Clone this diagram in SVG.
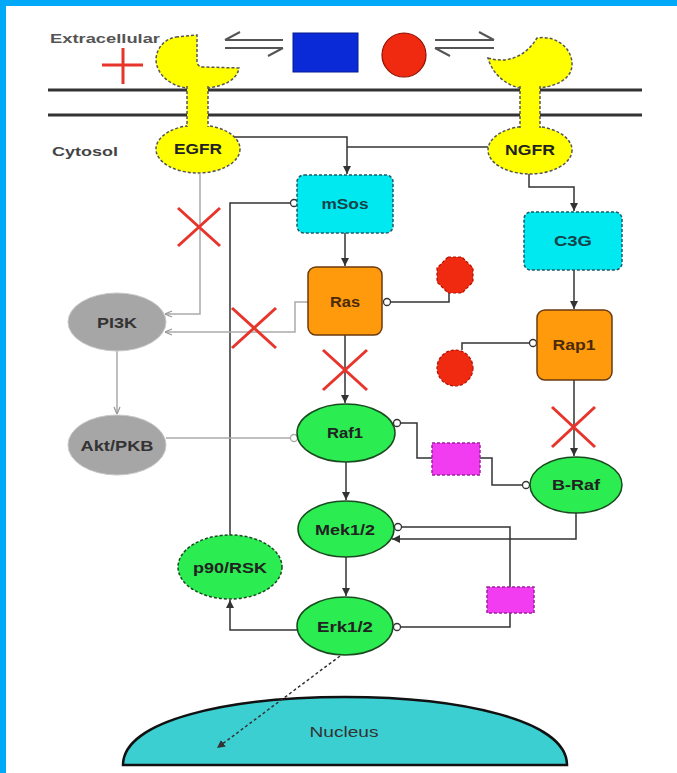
<svg xmlns="http://www.w3.org/2000/svg" width="677" height="773" viewBox="0 0 677 773">
<style>
text{font-family:"Liberation Sans",Arial,sans-serif;font-size:14px;font-weight:bold;fill:#222;text-anchor:middle}
.lbl{font-weight:bold;fill:#555;text-anchor:start}
.c{fill:none;stroke:#333;stroke-width:1.5}
.g{fill:none;stroke:#aaa;stroke-width:1.5}
.x{stroke:#e8352c;stroke-width:3;fill:none}
.yel{fill:#ffff00;stroke:#555;stroke-width:1.5;stroke-dasharray:3 2}
.cyan{fill:#00e8f0;stroke:#1a5a66;stroke-width:1.5;stroke-dasharray:3 2}
.org{fill:#ff9a0c;stroke:#6a3a10;stroke-width:1.5}
.grn{fill:#2bec50;stroke:#1a4a20;stroke-width:1.5}
.grnd{fill:#2bec50;stroke:#1a4a20;stroke-width:1.5;stroke-dasharray:3 2}
.gry{fill:#a6a6a6;stroke:#c8c8c8;stroke-width:1}
.mag{fill:#f23cf2;stroke:#a020a0;stroke-width:1.5;stroke-dasharray:3 2}
.eq{fill:none;stroke:#555;stroke-width:2}
</style>
<defs>
<marker id="arr" viewBox="0 0 8 8" refX="8" refY="4" markerWidth="8" markerHeight="8" markerUnits="userSpaceOnUse" orient="auto"><path d="M0,0 L8,4 L0,8 Z" fill="#333"/></marker>
<marker id="arrg" viewBox="0 0 8 8" refX="8" refY="4" markerWidth="8" markerHeight="8" markerUnits="userSpaceOnUse" orient="auto"><path d="M1,1 L8,4 L1,7" fill="none" stroke="#999" stroke-width="1.3"/></marker>
<marker id="dot" viewBox="0 0 10 10" refX="9" refY="5" markerWidth="10" markerHeight="10" markerUnits="userSpaceOnUse" orient="auto"><circle cx="5" cy="5" r="3.5" fill="#fff" stroke="#333" stroke-width="1.3"/></marker>
<marker id="dotg" viewBox="0 0 10 10" refX="9" refY="5" markerWidth="10" markerHeight="10" markerUnits="userSpaceOnUse" orient="auto"><circle cx="5" cy="5" r="3.5" fill="#fff" stroke="#aaa" stroke-width="1.3"/></marker>
</defs>
<rect width="677" height="773" fill="#fff"/>
<rect x="0" y="0" width="677" height="6" fill="#00a9f7"/>
<rect x="0" y="0" width="6" height="773" fill="#00a9f7"/>

<g id="labels">
<text class="lbl" x="50" y="43" textLength="110" lengthAdjust="spacingAndGlyphs" style="font-size:13px">Extracellular</text>
<text class="lbl" x="52" y="156" textLength="66" lengthAdjust="spacingAndGlyphs" style="font-size:13px;fill:#444">Cytosol</text>
</g>

<g id="membrane">
<line x1="48" y1="90" x2="642" y2="90" stroke="#333" stroke-width="3"/>
<line x1="48" y1="115" x2="642" y2="115" stroke="#333" stroke-width="3"/>
</g>

<g id="ligands">
<path class="x" d="M102,65 H143 M123,48 V84"/>
<path class="eq" d="M225,40 H283 M225,40 L240,32 M225,48 H283 M283,48 L268,56"/>
<rect x="293" y="33" width="65" height="39" fill="#0a2ad8" stroke="#061a90" stroke-width="1"/>
<circle cx="404" cy="55" r="22" fill="#f02a10" stroke="#901000" stroke-width="1.2"/>
<path class="eq" d="M435,40 H494 M494,40 L479,32 M435,48 H494 M435,48 L450,56"/>
</g>

<g id="Nucleus">
<path d="M123,765 C123,720 230,697 345,697 C460,697 567,720 567,765 Z" fill="#3ccfd2" stroke="#111" stroke-width="2.5"/>
<text x="344" y="737" textLength="69" lengthAdjust="spacingAndGlyphs" style="font-weight:normal;fill:#333">Nucleus</text>
</g>

<g id="connectors">
<path class="c" d="M234,137 H347 V174" marker-end="url(#arr)"/>
<path class="c" d="M488,147 H347"/>
<path class="c" d="M529,174 V187 H574 V211" marker-end="url(#arr)"/>
<path class="c" d="M345,233 V266" marker-end="url(#arr)"/>
<path class="c" d="M574,270 V309" marker-end="url(#arr)"/>
<path class="c" d="M345,335 V403" marker-end="url(#arr)"/>
<path class="c" d="M574,380 V456" marker-end="url(#arr)"/>
<path class="c" d="M346,462 V500" marker-end="url(#arr)"/>
<path class="c" d="M346,557 V596" marker-end="url(#arr)"/>
<path class="c" d="M297,630 H230 V600" marker-end="url(#arr)"/>
<path class="c" d="M230,535 V203 H298" marker-end="url(#dot)"/>
<path class="c" d="M449,293 V302 H383" marker-end="url(#dot)"/>
<path class="c" d="M462,350 V343 H537" marker-end="url(#dot)"/>
<path class="c" d="M432,458 H417 V423 H393" marker-end="url(#dot)"/>
<path class="c" d="M480,458 H492 V485 H530" marker-end="url(#dot)"/>
<path class="c" d="M576,513 V539 H392" marker-end="url(#arr)"/>
<path class="c" d="M510,587 V527 H394" marker-end="url(#dot)"/>
<path class="c" d="M510,613 V627 H393" marker-end="url(#dot)"/>
<path class="c" d="M340,656 L217,748" stroke-dasharray="3 2.5" marker-end="url(#arr)"/>
<path class="g" d="M200,174 V314 H165" marker-end="url(#arrg)"/>
<path class="g" d="M308,302 H295 V332 H165" marker-end="url(#arrg)"/>
<path class="g" d="M117,351 V414" marker-end="url(#arrg)"/>
<path class="g" d="M166,438 H298" marker-end="url(#dotg)"/>
</g>

<g id="EGFR">
<path class="yel" d="M176,37 L197,35 L197,62 Q198,67 203,67 L239,68 C237,80 224,86 208,88 L187,88 C170,86 156,74 156,59 C157,47 165,39 176,37 Z"/>
<ellipse class="yel" cx="198" cy="149" rx="42" ry="24"/>
<rect x="187" y="84" width="21" height="44" fill="#ffff00"/>
<path d="M187,86 V127 M208,86 V127" stroke="#555" stroke-width="1.5" stroke-dasharray="3 2"/>
<text x="198" y="154" textLength="48" lengthAdjust="spacingAndGlyphs">EGFR</text>
</g>

<g id="NGFR">
<path class="yel" d="M488,58 C508,64 526,56 537,38 C556,35 572,48 572,64 C572,77 561,85 540,88 L520,88 C505,85 492,73 488,58 Z"/>
<ellipse class="yel" cx="530" cy="150" rx="42" ry="24"/>
<rect x="520" y="84" width="20" height="44" fill="#ffff00"/>
<path d="M520,86 V128 M540,86 V128" stroke="#555" stroke-width="1.5" stroke-dasharray="3 2"/>
<text x="530" y="155" textLength="50" lengthAdjust="spacingAndGlyphs">NGFR</text>
</g>

<g id="mSos">
<rect class="cyan" x="297" y="175" width="96" height="58" rx="7"/>
<text x="345" y="209" textLength="47" lengthAdjust="spacingAndGlyphs" style="fill:#16434a">mSos</text>
</g>
<g id="C3G">
<rect class="cyan" x="524" y="212" width="98" height="58" rx="7"/>
<text x="573" y="246" textLength="38" lengthAdjust="spacingAndGlyphs" style="fill:#16434a">C3G</text>
</g>
<g id="Ras">
<rect class="org" x="308" y="267" width="74" height="68" rx="8"/>
<text x="345" y="307" textLength="30" lengthAdjust="spacingAndGlyphs" style="fill:#4a2a08">Ras</text>
</g>
<g id="Rap1">
<rect class="org" x="537" y="310" width="75" height="70" rx="8"/>
<text x="574" y="350" textLength="43" lengthAdjust="spacingAndGlyphs" style="fill:#4a2a08">Rap1</text>
</g>
<g id="RasGAP">
<polygon points="448,257 462,257 473,268 473,282 462,293 448,293 437,282 437,268" fill="#f02a10" stroke="#b01000" stroke-width="1.2" stroke-dasharray="3 2"/>
</g>
<g id="Rap1GAP">
<circle cx="455" cy="368" r="18" fill="#f02a10" stroke="#b01000" stroke-width="1.2" stroke-dasharray="3 2"/>
</g>
<g id="PI3K">
<ellipse class="gry" cx="117" cy="322" rx="49" ry="29"/>
<text x="117" y="328" textLength="40" lengthAdjust="spacingAndGlyphs" style="fill:#333">PI3K</text>
</g>
<g id="AktPKB">
<ellipse class="gry" cx="117" cy="445" rx="49" ry="30"/>
<text x="117" y="451" textLength="73" lengthAdjust="spacingAndGlyphs" style="fill:#333">Akt/PKB</text>
</g>
<g id="Raf1">
<ellipse class="grn" cx="346" cy="433" rx="49" ry="29"/>
<text x="345" y="438" textLength="36" lengthAdjust="spacingAndGlyphs">Raf1</text>
</g>
<g id="BRaf">
<ellipse class="grn" cx="576" cy="485" rx="46" ry="28"/>
<text x="576" y="490" textLength="48" lengthAdjust="spacingAndGlyphs">B-Raf</text>
</g>
<g id="Mek12">
<ellipse class="grn" cx="346" cy="529" rx="48" ry="28"/>
<text x="345" y="535" textLength="60" lengthAdjust="spacingAndGlyphs">Mek1/2</text>
</g>
<g id="Erk12">
<ellipse class="grn" cx="345" cy="626" rx="48" ry="29"/>
<text x="345" y="632" textLength="56" lengthAdjust="spacingAndGlyphs">Erk1/2</text>
</g>
<g id="p90RSK">
<ellipse class="grnd" cx="230" cy="567" rx="52" ry="32"/>
<text x="230" y="573" textLength="74" lengthAdjust="spacingAndGlyphs">p90/RSK</text>
</g>
<g id="mod1">
<rect class="mag" x="432" y="443" width="48" height="32"/>
</g>
<g id="mod2">
<rect class="mag" x="487" y="587" width="47" height="26"/>
</g>

<g id="blocks">
<path class="x" d="M178,208 L220,246 M220,208 L178,246"/>
<path class="x" d="M232,308 L276,348 M276,308 L232,348"/>
<path class="x" d="M323,350 L367,390 M367,350 L323,390"/>
<path class="x" d="M552,407 L595,447 M595,407 L552,447"/>
</g>
</svg>
